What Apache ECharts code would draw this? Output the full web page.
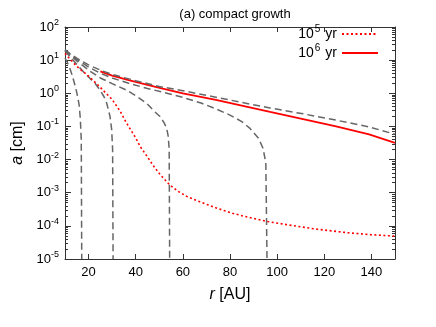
<!DOCTYPE html>
<html>
<head>
<meta charset="utf-8">
<script src="https://cdn.jsdelivr.net/npm/echarts@6/dist/echarts.min.js"></script>
<style>html,body{margin:0;padding:0;background:#fff}#c{width:436px;height:327px}</style>
</head>
<body>
<div id="c"></div>
<script>
// ---- data ----
const xTicks = [20, 40, 60, 80, 100, 120, 140];
const yExponents = [-5, -4, -3, -2, -1, 0, 1, 2];

// gray dashed curves
const rA = [10, 11, 12, 13, 14, 15, 16, 16.5, 16.9, 17.1];
const aA = [11.5, 8.5, 5.8, 3.6, 2.0, 1.05, 0.45, 0.17, 0.04, 1e-5];

const rB = [10, 12, 15, 18, 20, 22.7, 24.8, 26.5, 27.7, 29.1, 29.8, 30.2, 30.4];
const aB = [19, 13, 7.5, 4.3, 3.1, 2.0, 1.26, 0.8, 0.5, 0.2, 0.08, 0.02, 1e-5];

const rC = [10, 12, 15, 20, 25, 30, 36, 40, 44.6, 48, 50.3, 52, 53.1, 53.8, 54.2, 54.4];
const aC = [20, 14.5, 9.5, 5.0, 2.9, 1.95, 1.26, 0.85, 0.5, 0.28, 0.2, 0.13, 0.09, 0.05, 0.02, 1e-5];

const rD = [10, 12, 15, 20, 25, 30, 37, 45, 51, 60, 68, 74, 80, 85, 88.5, 92, 94, 95.2, 95.7];
const aD = [20, 15, 10.5, 6.2, 4.0, 2.9, 2.0, 1.4, 1.1, 0.75, 0.5, 0.34, 0.22, 0.14, 0.087, 0.045, 0.022, 0.008, 1e-5];

const rE = [10, 12, 15, 20, 25, 30, 40, 50, 60, 74, 85, 97, 111, 125, 139, 150];
const aE = [21, 16, 11.5, 7.2, 5.0, 3.7, 2.4, 1.6, 1.2, 0.76, 0.53, 0.36, 0.24, 0.155, 0.097, 0.058];

// red curves
const r5 = [10, 12, 15, 20, 25, 30, 33.5, 36, 40, 42, 45, 47.5, 50, 53, 54.5, 58, 62, 67, 74, 81, 88, 96, 105, 117, 130, 140, 150];
const a5 = [16, 11, 6.5, 3.3, 1.5, 0.65, 0.28, 0.13, 0.045, 0.024, 0.012, 0.0065, 0.0038, 0.0022, 0.0017, 0.0011, 7.5e-4, 5.4e-4, 3.5e-4, 2.4e-4, 1.8e-4, 1.35e-4, 1.06e-4, 7.9e-5, 6.2e-5, 5.4e-5, 4.9e-5];

const r6 = [25, 30, 37, 45, 51, 60, 74, 85, 97, 111, 125, 139, 150];
const a6 = [4.6, 3.4, 2.5, 1.8, 1.4, 1.0, 0.63, 0.427, 0.275, 0.166, 0.1, 0.0575, 0.032];

// ---- build ----
const zip = (xs, ys) => xs.map((x, i) => [x, ys[i]]);
const majorY = yExponents.map(e => Math.pow(10, e));
const minorY = [];
for (let e = -5; e < 2; e++) for (let k = 2; k <= 9; k++) minorY.push(k * Math.pow(10, e));

const FONT = 'Liberation Sans, Arial, sans-serif';
const FRAME = '#333';
const gray = { color: '#666', width: 1.5, type: [7, 4] };

const chart = echarts.init(document.getElementById('c'), null, { renderer: 'canvas' });

function yAxisCfg(pos, showLabel, vals, len, showLine) {
  return {
    type: 'log', logBase: 10, min: 1e-5, max: 100, position: pos,
    axisLine: { show: showLine, onZero: false, lineStyle: { color: FRAME, width: 1 } },
    axisTick: { show: true, inside: true, length: len, customValues: vals, lineStyle: { color: FRAME } },
    axisLabel: showLabel ? {
      show: true, customValues: majorY, margin: 6, fontFamily: FONT, color: '#000',
      formatter: v => '{b|10}{s|' + Math.round(Math.log10(v)) + '}',
      rich: { b: { fontSize: 13, fontFamily: FONT, color: '#000' },
              s: { fontSize: 9, fontFamily: FONT, color: '#000', padding: [0, 0, 9, 0] } }
    } : { show: false },
    splitLine: { show: false }, minorTick: { show: false }
  };
}

function xAxisCfg(pos, showLabel) {
  return {
    type: 'value', min: 10, max: 150, position: pos,
    axisLine: { show: true, onZero: false, lineStyle: { color: FRAME, width: 1 } },
    axisTick: { show: true, inside: true, length: 5, customValues: xTicks, lineStyle: { color: FRAME } },
    axisLabel: showLabel ? { show: true, customValues: xTicks, margin: 7, fontSize: 13, fontFamily: FONT, color: '#000' } : { show: false },
    splitLine: { show: false }
  };
}

const xAxes = [xAxisCfg('bottom', true), xAxisCfg('top', false)];
xAxes[0].name = '{i|r} [AU]';
xAxes[0].nameLocation = 'middle';
xAxes[0].nameGap = 28;
xAxes[0].nameTextStyle = { fontSize: 16, fontFamily: FONT, color: '#000',
  rich: { i: { fontStyle: 'italic', fontSize: 16, fontFamily: FONT, color: '#000' } } };

const yAxes = [
  yAxisCfg('left', true, majorY, 6, true),
  yAxisCfg('right', false, majorY, 6, true),
  yAxisCfg('left', false, minorY, 3, false),
  yAxisCfg('right', false, minorY, 3, false)
];
yAxes[0].name = '{i|a} [cm]';
yAxes[0].nameLocation = 'middle';
yAxes[0].nameGap = 38;
yAxes[0].nameRotate = 90;
yAxes[0].nameTextStyle = { fontSize: 16, fontFamily: FONT, color: '#000',
  rich: { i: { fontStyle: 'italic', fontSize: 16, fontFamily: FONT, color: '#000' } } };

function grayS(name, xs, ys) {
  return { name, type: 'line', data: zip(xs, ys), showSymbol: false, symbol: 'none',
    lineStyle: gray, itemStyle: { color: '#666' }, z: 3, clip: true, animation: false };
}

const option = {
  animation: false,
  backgroundColor: '#fff',
  title: { text: '(a) compact growth', left: 230, top: 3, textAlign: 'center',
    textStyle: { fontSize: 13, fontWeight: 'normal', fontFamily: FONT, color: '#000' } },
  grid: { left: 65, right: 41, top: 27, bottom: 68, containLabel: false },
  legend: {
    data: ['r5', 'r6'], orient: 'vertical', right: 57, top: 24, align: 'right',
    itemWidth: 36, itemHeight: 10, itemGap: 2, padding: 0,
    itemStyle: { opacity: 0 },
    formatter: n => n === 'r5' ? '{b|10}{s|5}{b|yr}' : '{b|10}{s|6}{b|yr}',
    textStyle: { fontFamily: FONT, color: '#000',
      rich: { b: { fontSize: 14, fontFamily: FONT, color: '#000' },
              s: { fontSize: 10, fontFamily: FONT, color: '#000', padding: [0, 5, 10, 1] } } }
  },
  xAxis: xAxes,
  yAxis: yAxes,
  series: [
    { name: 'r6', type: 'line', data: zip(r6, a6), showSymbol: false, symbol: 'none',
      lineStyle: { color: '#ff0000', width: 1.8, type: 'solid' }, itemStyle: { color: '#ff0000' }, z: 2 },
    grayS('gA', rA, aA),
    grayS('gB', rB, aB),
    grayS('gC', rC, aC),
    grayS('gD', rD, aD),
    grayS('gE', rE, aE),
    { name: 'r5', type: 'line', data: zip(r5, a5), showSymbol: false, symbol: 'none',
      lineStyle: { color: '#ff0000', width: 1.6, type: [2, 2.5] }, itemStyle: { color: '#ff0000' }, z: 4 }
  ]
};
chart.setOption(option);
</script>
</body>
</html>
